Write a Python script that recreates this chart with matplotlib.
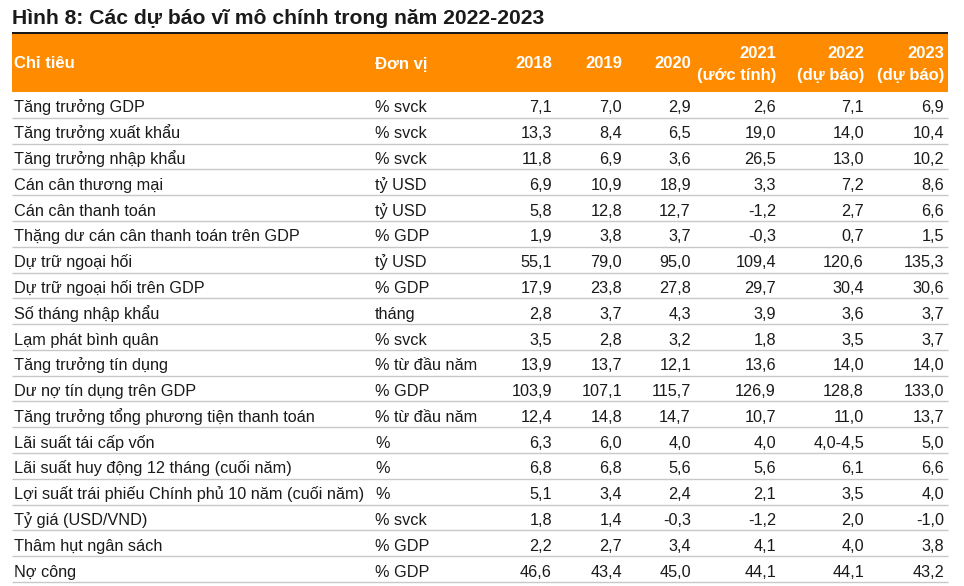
import matplotlib
matplotlib.use("Agg")
from matplotlib import pyplot as plt

plt.rcParams["font.family"] = ["Liberation Sans", "DejaVu Sans"]

TITLE = "Hình 8: Các dự báo vĩ mô chính trong năm 2022-2023"
HEADERS = ["Chỉ tiêu", "Đơn vị", "2018", "2019", "2020"]
HEADERS_2LINE = [("2021", "(ước tính)"), ("2022", "(dự báo)"), ("2023", "(dự báo)")]

indicators = [
    "Tăng trưởng GDP",
    "Tăng trưởng xuất khẩu",
    "Tăng trưởng nhập khẩu",
    "Cán cân thương mại",
    "Cán cân thanh toán",
    "Thặng dư cán cân thanh toán trên GDP",
    "Dự trữ ngoại hối",
    "Dự trữ ngoại hối trên GDP",
    "Số tháng nhập khẩu",
    "Lạm phát bình quân",
    "Tăng trưởng tín dụng",
    "Dư nợ tín dụng trên GDP",
    "Tăng trưởng tổng phương tiện thanh toán",
    "Lãi suất tái cấp vốn",
    "Lãi suất huy động 12 tháng (cuối năm)",
    "Lợi suất trái phiếu Chính phủ 10 năm (cuối năm)",
    "Tỷ giá (USD/VND)",
    "Thâm hụt ngân sách",
    "Nợ công",
]
units = [
    "% svck", "% svck", "% svck", "tỷ USD", "tỷ USD", "% GDP", "tỷ USD",
    "% GDP", "tháng", "% svck", "% từ đầu năm", "% GDP", "% từ đầu năm",
    "%", "%", "%", "% svck", "% GDP", "% GDP",
]
y2018 = ["7,1", "13,3", "11,8", "6,9", "5,8", "1,9", "55,1", "17,9", "2,8", "3,5",
         "13,9", "103,9", "12,4", "6,3", "6,8", "5,1", "1,8", "2,2", "46,6"]
y2019 = ["7,0", "8,4", "6,9", "10,9", "12,8", "3,8", "79,0", "23,8", "3,7", "2,8",
         "13,7", "107,1", "14,8", "6,0", "6,8", "3,4", "1,4", "2,7", "43,4"]
y2020 = ["2,9", "6,5", "3,6", "18,9", "12,7", "3,7", "95,0", "27,8", "4,3", "3,2",
         "12,1", "115,7", "14,7", "4,0", "5,6", "2,4", "-0,3", "3,4", "45,0"]
y2021 = ["2,6", "19,0", "26,5", "3,3", "-1,2", "-0,3", "109,4", "29,7", "3,9", "1,8",
         "13,6", "126,9", "10,7", "4,0", "5,6", "2,1", "-1,2", "4,1", "44,1"]
y2022 = ["7,1", "14,0", "13,0", "7,2", "2,7", "0,7", "120,6", "30,4", "3,6", "3,5",
         "14,0", "128,8", "11,0", "4,0-4,5", "6,1", "3,5", "2,0", "4,0", "44,1"]
y2023 = ["6,9", "10,4", "10,2", "8,6", "6,6", "1,5", "135,3", "30,6", "3,7", "3,7",
         "14,0", "133,0", "13,7", "5,0", "6,6", "4,0", "-1,0", "3,8", "43,2"]

value_cols = [y2018, y2019, y2020, y2021, y2022, y2023]

W, H = 964, 586
fig = plt.figure(figsize=(W / 100, H / 100), dpi=100, facecolor="white")
ax = fig.add_axes([0, 0, 1, 1])
ax.set_xlim(0, W)
ax.set_ylim(H, 0)
ax.set_axis_off()

left, right = 12, 948
header_top, header_bot = 34, 92
row_h = (582 - header_bot) / len(indicators)
num_right = [552, 622, 691, 776, 864, 944]
orange = "#ff8c00"
text_c = "#1a1a1a"
body_fs = 11.7
head_fs = 12.0

ax.text(left, 24, TITLE, fontsize=15.2, fontweight="bold", color=text_c,
        ha="left", va="baseline")
ax.plot([left, right], [33, 33], color="black", lw=1.3, solid_capstyle="butt")
ax.add_patch(plt.Rectangle((left, header_top), right - left, header_bot - header_top,
                           facecolor=orange, edgecolor="none"))

head_kw = dict(fontsize=head_fs, fontweight="bold", color="white", va="baseline")
ax.text(14, 68.5, HEADERS[0], ha="left", **head_kw)
ax.text(375, 68.5, HEADERS[1], ha="left", **head_kw)
for x, label in zip(num_right[:3], HEADERS[2:]):
    ax.text(x, 68.5, label, ha="right", **head_kw)
for x, (top, bottom) in zip(num_right[3:], HEADERS_2LINE):
    ax.text(x, 57.5, top, ha="right", **head_kw)
    ax.text(x, 80, bottom, ha="right", **head_kw)

body_kw = dict(fontsize=body_fs, color=text_c, va="baseline")
for i, name in enumerate(indicators):
    top = header_bot + i * row_h
    by = top + 20.4
    ax.text(14, by, name, ha="left", **body_kw)
    ax.text(375, by, units[i], ha="left", **body_kw)
    for x, col in zip(num_right, value_cols):
        ax.text(x, by, col[i], ha="right", **body_kw)
    ly = top + row_h
    ax.plot([left, right], [ly, ly], color="#c8c8c8", lw=1.0, solid_capstyle="butt")

fig.savefig("out.png", dpi=100, facecolor="white")
plt.close(fig)
